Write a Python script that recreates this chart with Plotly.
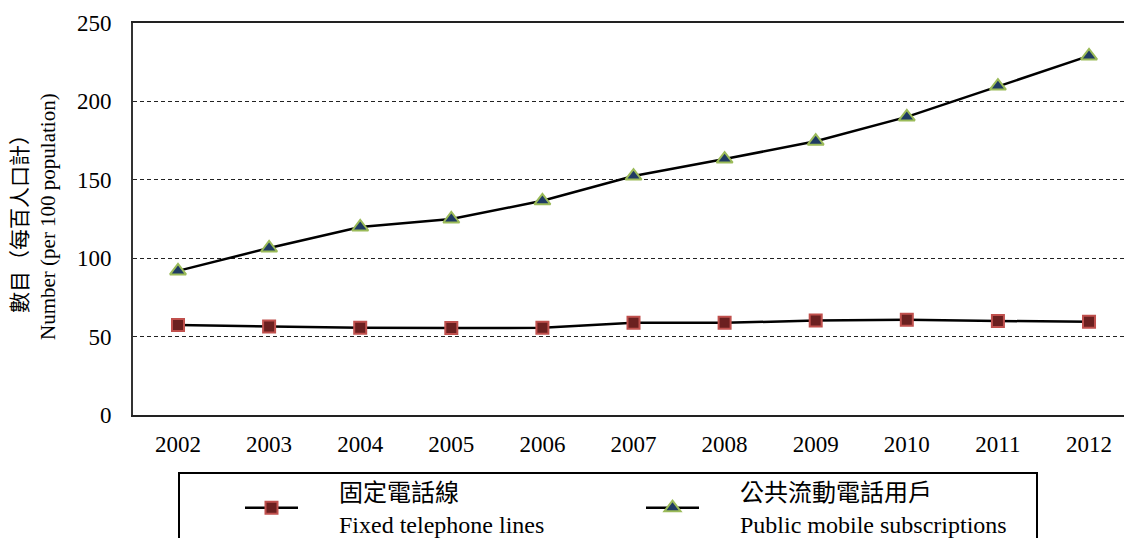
import plotly.graph_objects as go

years = [2002, 2003, 2004, 2005, 2006, 2007, 2008, 2009, 2010, 2011, 2012]
fixed_lines = [57.4, 56.5, 55.6, 55.5, 55.6, 58.8, 58.8, 60.2, 60.7, 60.0, 59.4]
mobile_subs = [91.9, 106.5, 119.9, 125.0, 136.6, 152.4, 163.2, 174.6, 190.1, 209.8, 229.0]
tick_years = [str(y) for y in years]
y_ticks = [0, 50, 100, 150, 200, 250]

PAD = "\u00a0" * 6
name_fixed = PAD + "固定電話線<br>" + PAD + "Fixed telephone lines"
name_mobile = PAD + "公共流動電話用戶<br>" + PAD + "Public mobile subscriptions"
ytitle_zh = "數目（每百人口計）"
ytitle_en = "Number (per 100 population)"

FONT = "Liberation Serif, Times New Roman, Noto Sans CJK TC, serif"

W, H = 1124, 538
ML, MR, MT, MB = 133, 0, 23, 123
PW = W - ML - MR
PH = H - MT - MB

def px_x(p):
    return (p - ML) / PW

def px_y(p):
    return (H - MB - p) / PH

fig = go.Figure()
fig.add_trace(go.Scatter(
    x=years, y=fixed_lines, name=name_fixed, mode="lines+markers",
    line=dict(color="black", width=2.5),
    marker=dict(symbol="square", size=12, color="#6B2020",
                line=dict(color="#C0504D", width=2)),
))
fig.add_trace(go.Scatter(
    x=years, y=mobile_subs, name=name_mobile, mode="lines+markers",
    line=dict(color="black", width=2.5),
    marker=dict(symbol="triangle-up", size=14, color="#1F3B63",
                line=dict(color="#9BBB59", width=2)),
))

# legend frame
fig.add_shape(type="rect", xref="paper", yref="paper",
              x0=px_x(179), x1=px_x(1037), y0=px_y(700), y1=px_y(473),
              line=dict(color="black", width=2), fillcolor="rgba(0,0,0,0)")

fig.add_annotation(text=ytitle_zh, xref="paper", yref="paper",
                   x=px_x(20), y=px_y(219), xanchor="center", yanchor="middle",
                   textangle=-90, showarrow=False,
                   font=dict(family=FONT, size=21, color="black"))
fig.add_annotation(text=ytitle_en, xref="paper", yref="paper",
                   x=px_x(48), y=px_y(217), xanchor="center", yanchor="middle",
                   textangle=-90, showarrow=False,
                   font=dict(family=FONT, size=21, color="black"))

fig.update_layout(
    width=W, height=H,
    margin=dict(l=ML, r=MR, t=MT, b=MB, autoexpand=False),
    paper_bgcolor="white", plot_bgcolor="white",
    font=dict(family=FONT, size=23, color="black"),
    showlegend=True,
    legend=dict(orientation="h", x=px_x(240), y=px_y(470),
                xanchor="left", yanchor="top",
                entrywidth=333, entrywidthmode="pixels", itemwidth=53,
                font=dict(family=FONT, size=24, color="black"),
                bgcolor="rgba(0,0,0,0)", borderwidth=0),
    xaxis=dict(range=[2001.506, 2012.384], tickmode="array",
               tickvals=years, ticktext=tick_years,
               showgrid=False, zeroline=False,
               showline=True, linecolor="#222", linewidth=2, mirror=True,
               ticks="", ticklabelstandoff=7,
               tickfont=dict(family=FONT, size=23, color="black")),
    yaxis=dict(range=[0, 250], tickmode="array", tickvals=y_ticks,
               showgrid=True, gridcolor="#222", gridwidth=1, griddash="4px,3px",
               zeroline=False, showline=True, linecolor="#333", linewidth=2,
               ticks="", ticklabelstandoff=15,
               tickfont=dict(family=FONT, size=23, color="black")),
)

fig.write_html("out.html", config={"displayModeBar": False},
               post_script="document.body.style.margin='0';")
